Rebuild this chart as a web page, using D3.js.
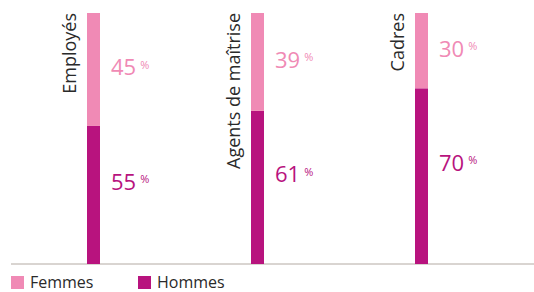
<!DOCTYPE html>
<html>
<head>
<meta charset="utf-8">
<script src="https://cdn.jsdelivr.net/npm/d3@7"></script>
<style>
  body { margin: 0; background: #fff; }
  svg { display: block; font-family: "Open Sans", "Noto Sans", sans-serif; }
</style>
</head>
<body>
<div id="chart"></div>
<script>
var categories = ["Employés", "Agents de maîtrise", "Cadres"];
var femmes = [45, 39, 30];
var hommes = [55, 61, 70];
var seriesNames = ["Femmes", "Hommes"];

var colors = {Femmes: "#f08ab5", Hommes: "#b8137e"};

var width = 534, height = 292;
var svg = d3.select("#chart").append("svg")
    .attr("width", width).attr("height", height);

var xScale = d3.scalePoint().domain(categories).range([93.5, 421.5]),
    yScale = d3.scaleLinear().domain([0, 100]).range([264, 13]);

var barW = 13;

var data = categories.map(function(c, i) {
  return {cat: c, femmes: femmes[i], hommes: hommes[i]};
});

// baseline
svg.append("line")
    .attr("x1", 11).attr("x2", width)
    .attr("y1", yScale(0)).attr("y2", yScale(0))
    .attr("stroke", "#b3aaa3").attr("stroke-width", 1);

var bar = svg.selectAll(".bar")
  .data(data)
  .enter().append("g")
    .attr("class", "bar")
    .attr("transform", function(d) { return "translate(" + (xScale(d.cat) - barW / 2) + ",0)"; });

// hommes (bottom)
bar.append("rect")
    .attr("x", 0).attr("width", barW)
    .attr("y", function(d) { return yScale(d.hommes); })
    .attr("height", function(d) { return yScale(0) - yScale(d.hommes); })
    .attr("fill", colors.Hommes);

// femmes (top)
bar.append("rect")
    .attr("x", 0).attr("width", barW)
    .attr("y", function(d) { return yScale(d.hommes + d.femmes); })
    .attr("height", function(d) { return yScale(d.hommes) - yScale(d.hommes + d.femmes); })
    .attr("fill", colors.Femmes);

// category labels, rotated
bar.append("text")
    .attr("transform", function(d) { return "translate(-11," + yScale(100) + ") rotate(-90)"; })
    .attr("text-anchor", "end")
    .style("font-size", "18px")
    .attr("fill", "#2a2a2a")
    .text(function(d) { return d.cat; });

function valueLabel(sel, key, yFn) {
  var t = sel.append("text")
      .attr("x", barW + 11)
      .attr("y", yFn)
      .attr("dy", "0.36em")
      .attr("fill", colors[key])
      .style("font-size", "22px");
  t.append("tspan").text(function(d) { return d[key.toLowerCase()]; });
  t.append("tspan")
      .attr("dx", 4).attr("dy", "-0.62em")
      .style("font-size", "11px")
      .text("%");
}

valueLabel(bar, "Femmes", function(d) {
  return (yScale(d.hommes) + yScale(d.hommes + d.femmes)) / 2 - 2;
});
valueLabel(bar, "Hommes", function(d) {
  return (yScale(0) + yScale(d.hommes)) / 2 - 13;
});

// legend
var legend = svg.selectAll(".legend")
  .data(seriesNames)
  .enter().append("g")
    .attr("class", "legend")
    .attr("transform", function(d, i) { return "translate(" + (11 + i * 127) + ",276)"; });

legend.append("rect")
    .attr("width", 13).attr("height", 13)
    .attr("fill", function(d) { return colors[d]; });

legend.append("text")
    .attr("x", 19).attr("y", 12)
    .style("font-size", "16px")
    .attr("fill", "#2a2a2a")
    .text(function(d) { return d; });
</script>
</body>
</html>
